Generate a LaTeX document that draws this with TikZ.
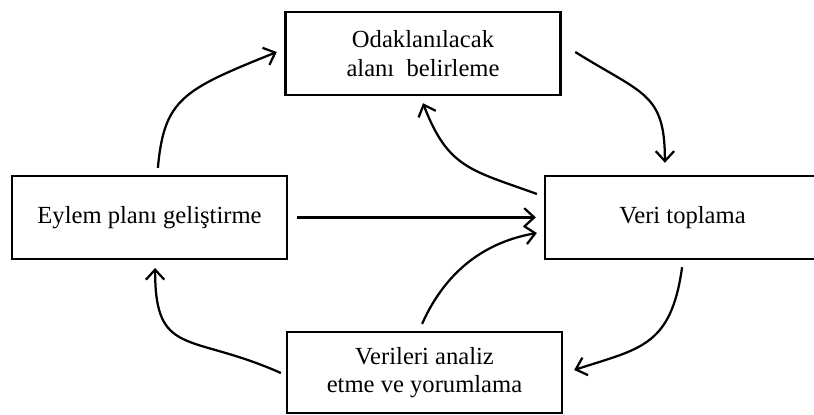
\documentclass[tikz,border=0pt]{standalone}
\usepackage{fontspec}
\setmainfont{Liberation Serif}
\usetikzlibrary{arrows.meta}

\begin{document}
\begin{tikzpicture}[line width=1.6pt, >={Straight Barb[length=2.5mm,width=4.6mm]},
    box/.style={draw, minimum width=6.875cm, minimum height=2.075cm, inner sep=0pt,
                align=center, font=\fontsize{17.5}{20.5}\selectfont}]
    \useasboundingbox (0,0) rectangle (20.35,10.375);

    \node [box] (odak) at (10.575 , 9.04) {Odaklanılacak\\alanı\ \ belirleme};
    \node [box] (eylem) at (3.7375 , 4.94) {Eylem planı geliştirme};
    \node [box] (veri) at (17.0625 , 4.94) {Veri toplama};
    \node [box, minimum height=2.03cm] (analiz) at (10.6125 , 1.06) {Verileri analiz\\etme ve yorumlama};
 \path[->]
      ([xshift=.21cm,yshift=.17cm]eylem.north) edge[out=85, in=202, out distance=1.75cm, in distance=2.5cm] ([xshift=-.19cm,yshift=.035cm]odak.west)
      ([xshift=.34cm,yshift=.035cm]odak.east) edge[out=-32, in=90, out distance=2cm, in distance=1.75cm] ([xshift=-.44cm,yshift=.3cm]veri.north)
      ([xshift=-.175cm,yshift=.585cm]veri.west) edge[out=160, in=-69, out distance=1.75cm, in distance=1.75cm] ([yshift=-.18cm]odak.south)
      ([xshift=.22cm]eylem.east) edge ([xshift=-.2cm]veri.west)
      ([xshift=-.06cm,yshift=.175cm]analiz.north) edge[out=66, in=190, out distance=1.25cm, in distance=1.5cm] ([xshift=-.175cm,yshift=-.39cm]veri.west)
      ([xshift=-.01cm,yshift=-.18cm]veri.south) edge[out=-98, in=18, out distance=2cm, in distance=1.75cm] ([xshift=.275cm,yshift=.065cm]analiz.east)
      ([xshift=-.125cm,yshift=-.01cm]analiz.west) edge[out=156, in=-90, out distance=2.5cm, in distance=2.25cm] ([xshift=.14cm,yshift=-.2cm]eylem.south);
\end{tikzpicture}
\end{document}
